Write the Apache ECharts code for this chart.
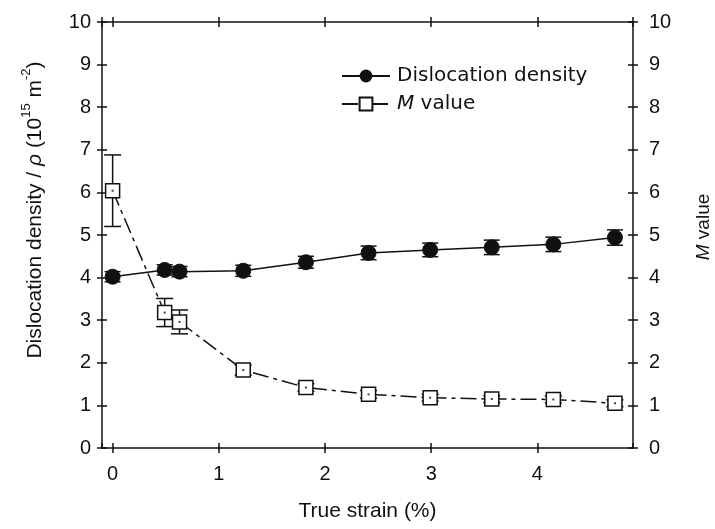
<!DOCTYPE html>
<html>
<head>
<meta charset="utf-8">
<script src="https://cdn.jsdelivr.net/npm/echarts@6/dist/echarts.min.js"></script>
<style>
  html, body { margin: 0; padding: 0; background: #fff; }
  #chart { width: 715px; height: 529px; }
</style>
</head>
<body>
<div id="chart"></div>
<script>
// ── Data ───────────────────────────────────────────────
const strain     = [0, 0.49, 0.63, 1.23, 1.82, 2.41, 2.99, 3.57, 4.15, 4.73];
const density    = [4.02, 4.18, 4.14, 4.16, 4.36, 4.58, 4.65, 4.71, 4.78, 4.94];
const densityErr = [0.12, 0.12, 0.12, 0.13, 0.14, 0.16, 0.16, 0.17, 0.17, 0.18];
const mValue     = [6.04, 3.18, 2.96, 1.83, 1.42, 1.26, 1.18, 1.15, 1.14, 1.05];
const mValueErr  = [0.84, 0.33, 0.28, 0.12, 0.09, 0.09, 0.08, 0.08, 0.08, 0.08];

// ── Style ──────────────────────────────────────────────
const INK   = '#111';
const FONT  = "'Liberation Sans', Arial, sans-serif";
const LFONT = "'DejaVu Sans', sans-serif";
const TICK_FS = 20;
const NAME_FS = 21;

const chart = echarts.init(document.getElementById('chart'));

const pts = vals => strain.map((x, i) => [x, vals[i]]);
const errData = (vals, errs) => strain.map((x, i) => [x, vals[i] - errs[i], vals[i] + errs[i]]);

function errRender(halfCap) {
  return (params, api) => {
    const x = api.value(0);
    const top = api.coord([x, api.value(2)]);
    const bot = api.coord([x, api.value(1)]);
    const style = { stroke: INK, lineWidth: 1.5 };
    return {
      type: 'group',
      children: [
        { type: 'line', shape: { x1: top[0], y1: top[1], x2: bot[0], y2: bot[1] }, style },
        { type: 'line', shape: { x1: top[0] - halfCap, y1: top[1], x2: top[0] + halfCap, y2: top[1] }, style },
        { type: 'line', shape: { x1: bot[0] - halfCap, y1: bot[1], x2: bot[0] + halfCap, y2: bot[1] }, style },
      ],
    };
  };
}

// axis helpers: each side gets an outside-tick axis and an inside-tick twin so ticks cross the line
function xAx(position, inside, main) {
  return {
    type: 'value', position, min: -0.1, max: 4.9, splitNumber: 5,
    axisLine: { show: !inside, onZero: false, lineStyle: { color: INK, width: 1.5 } },
    axisTick: { show: true, inside, length: 5, lineStyle: { color: INK, width: 1.5 } },
    axisLabel: {
      show: main, margin: 16, fontSize: TICK_FS, fontFamily: FONT, color: INK,
      showMinLabel: false, showMaxLabel: false,
    },
    splitLine: { show: false },
    ...(main && {
      name: 'True strain (%)', nameLocation: 'middle', nameGap: 53,
      nameTextStyle: { fontSize: NAME_FS, fontFamily: FONT, color: INK },
    }),
  };
}

function yAx(position, inside, main) {
  return {
    type: 'value', position, min: 0, max: 10, interval: 1,
    axisLine: { show: !inside, onZero: false, lineStyle: { color: INK, width: 1.5 } },
    axisTick: { show: true, inside, length: 5, lineStyle: { color: INK, width: 1.5 } },
    axisLabel: { show: main, margin: position === 'left' ? 11 : 16, fontSize: TICK_FS, fontFamily: FONT, color: INK },
    splitLine: { show: false },
  };
}

const yLeft = {
  ...yAx('left', false, true),
  name: '{a|Dislocation density / }{i|ρ}{a| (10}{s|15}{a| m}{s|-2}{a|)}',
  nameLocation: 'middle', nameRotate: 90, nameGap: 52,
  nameTextStyle: {
    padding: [0, 0, 0, 50],
    rich: {
      a: { fontSize: NAME_FS, fontFamily: FONT, color: INK, lineHeight: 30 },
      i: { fontSize: NAME_FS, fontFamily: FONT, color: INK, lineHeight: 30, fontStyle: 'italic' },
      s: { fontSize: 13, fontFamily: FONT, color: INK, lineHeight: 13, verticalAlign: 'top' },
    },
  },
};

const yRight = {
  ...yAx('right', false, true),
  name: '{i|M}{a| value}',
  nameLocation: 'middle', nameRotate: 90, nameGap: 61,
  nameTextStyle: {
    padding: [0, 0, 0, 16],
    rich: {
      a: { fontSize: 19, fontFamily: FONT, color: INK },
      i: { fontSize: 19, fontFamily: FONT, color: INK, fontStyle: 'italic' },
    },
  },
};

chart.setOption({
  backgroundColor: '#fff',
  animation: false,
  grid: { left: 102, right: 82, top: 22, bottom: 81, containLabel: false, outerBoundsMode: 'none' },

  legend: {
    orient: 'vertical', left: 336, top: 61,
    itemWidth: 48, itemHeight: 16, itemGap: 8,
    data: ['Dislocation density', 'M value'],
    formatter: name => name === 'M value' ? '{i|M}{a| value}' : '{a|' + name + '}',
    textStyle: {
      padding: [0, 0, 0, 2],
      rich: {
        a: { fontSize: 20, fontFamily: LFONT, color: INK },
        i: { fontSize: 20, fontFamily: LFONT, color: INK, fontStyle: 'italic' },
      },
    },
  },

  xAxis: [xAx('bottom', false, true), xAx('bottom', true, false), xAx('top', false, false), xAx('top', true, false)],
  yAxis: [yLeft, yAx('left', true, false), yRight, yAx('right', true, false)],

  series: [
    {
      type: 'custom', name: 'dens-err', z: 1, silent: true,
      xAxisIndex: 0, yAxisIndex: 0,
      encode: { x: 0, y: [1, 2] },
      data: errData(density, densityErr),
      renderItem: errRender(8),
    },
    {
      type: 'custom', name: 'm-err', z: 1, silent: true,
      xAxisIndex: 0, yAxisIndex: 2,
      encode: { x: 0, y: [1, 2] },
      data: errData(mValue, mValueErr),
      renderItem: errRender(8.5),
    },
    {
      type: 'line', name: 'M value', z: 3,
      xAxisIndex: 0, yAxisIndex: 2,
      data: pts(mValue),
      symbol: 'rect', symbolSize: 14,
      lineStyle: { color: INK, width: 1.5, type: [16, 5, 4, 5] },
      itemStyle: { color: '#fff', borderColor: INK, borderWidth: 1.5 },
      emphasis: { disabled: true },
    },
    {
      type: 'scatter', name: 'm-dot', z: 4, silent: true,
      xAxisIndex: 0, yAxisIndex: 2,
      data: pts(mValue),
      symbol: 'rect', symbolSize: 2,
      itemStyle: { color: INK },
    },
    {
      type: 'line', name: 'Dislocation density', z: 5,
      xAxisIndex: 0, yAxisIndex: 0,
      data: pts(density),
      symbol: 'circle', symbolSize: 15,
      lineStyle: { color: INK, width: 1.5 },
      itemStyle: { color: INK, borderColor: INK },
      emphasis: { disabled: true },
    },
  ],
});
</script>
</body>
</html>
